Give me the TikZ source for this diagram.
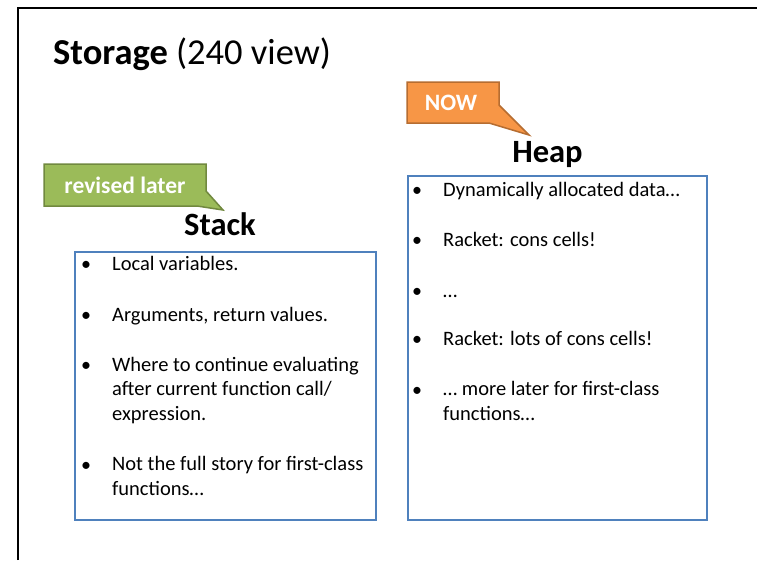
\documentclass[tikz,border=0pt]{standalone}
\usepackage{fontspec}
\setmainfont{Carlito}
\definecolor{boxblue}{HTML}{4F81BD}
\definecolor{nowfill}{HTML}{F79646}
\definecolor{nowline}{HTML}{B66D31}
\definecolor{revfill}{HTML}{9BBB59}
\definecolor{revline}{HTML}{71893F}
\tikzset{
  frameline/.style={line width=2pt, black},
  panel/.style={draw=boxblue, line width=2pt, anchor=north west, inner sep=0pt},
  heading/.style={font=\fontsize{32.5}{38}\selectfont\bfseries, anchor=base, inner sep=0pt},
  item/.style={anchor=base west, font=\fontsize{20.5}{24.5}\selectfont, align=left, inner sep=0pt},
  dot/.style={anchor=base, font=\fontsize{20}{24.5}\selectfont, inner sep=0pt},
  calloutshape/.style={line width=1.5pt, line join=miter},
  callouttext/.style={text=white, font=\fontsize{23.5}{28}\selectfont\bfseries, inner sep=0pt}
}
\begin{document}
\begin{tikzpicture}[x=1pt, y=-1pt]
  \useasboundingbox (0,0) rectangle (757,560);
  \fill[white] (0,0) rectangle (757,560);

  % slide frame (left and top edges)
  \draw[frameline] (17.5,560) -- (17.5,8) -- (757,8);

  % title
  \node[anchor=base west, inner sep=0pt, font=\fontsize{36.5}{42}\selectfont] (title) at (53,64)
    {\textbf{Storage} (240 view)};

  % headings
  \node[heading] (stackhead) at (220,235) {Stack};
  \node[heading] (heaphead) at (547.5,162) {Heap};

  % panels
  \node[panel, minimum width=301, minimum height=268] (stack) at (74,251) {};
  \node[panel, minimum width=299, minimum height=344] (heap) at (407,175) {};

  % stack items (multi-line items are placed by their last baseline)
  \foreach \y in {270,321,371,471} \node[dot] at (86,\y) {\textbullet};
  \node[item] (s1) at (112,270) {Local variables.};
  \node[item] (s2) at (112,321) {Arguments, return values.};
  \node[item] (s3) at (112,420) {Where to continue evaluating\\after current function call/\\expression.};
  \node[item] (s4) at (112,495) {Not the full story for first-class\\functions\ldots};

  % heap items
  \foreach \y in {196,246,297,345,396} \node[dot] at (417,\y) {\textbullet};
  \node[item] (h1) at (443,196) {Dynamically allocated data\ldots};
  \node[item] (h2) at (443,246) {Racket: cons cells!};
  \node[item] (h3) at (443,297) {\ldots};
  \node[item] (h4) at (443,345) {Racket: lots of cons cells!};
  \node[item] (h5) at (443,420) {\ldots{} more later for first-class\\functions\ldots};

  % callouts
  \coordinate (nowtip) at (529,135);
  \draw[calloutshape, fill=nowfill, draw=nowline]
    (407,82) -- (499,82) -- (499,105) -- (nowtip) -- (489,123) -- (407,123) -- cycle;
  \node[callouttext] (now) at (451,102.5) {NOW};

  \coordinate (revtip) at (223,210);
  \draw[calloutshape, fill=revfill, draw=revline]
    (44,164) -- (206,164) -- (206,191) -- (revtip) -- (197,206) -- (44,206) -- cycle;
  \node[callouttext] (revised) at (125,185) {revised later};
\end{tikzpicture}
\end{document}
